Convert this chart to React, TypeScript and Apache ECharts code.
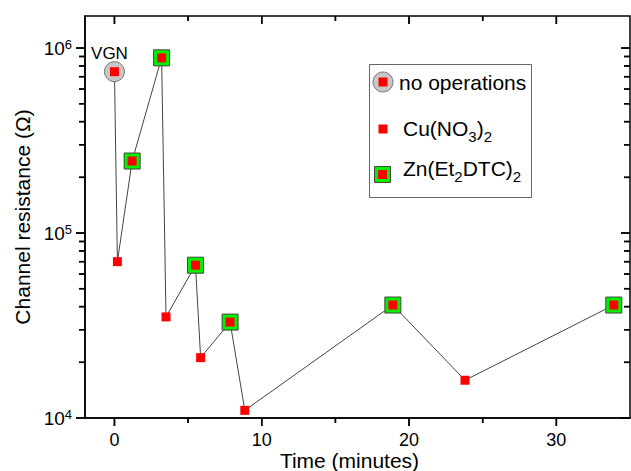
import React, { useEffect, useRef } from 'react';
import * as echarts from 'echarts';

// Data
const timeMin = [0, 0.2, 1.2, 3.2, 3.5, 5.5, 5.85, 7.85, 8.85, 18.9, 23.8, 33.9];
const resistance = [7.45e5, 7.0e4, 2.45e5, 8.85e5, 3.52e4, 6.7e4, 2.12e4, 3.3e4, 1.1e4, 4.08e4, 1.6e4, 4.08e4];
const treatment = ['none', 'cu', 'zn', 'zn', 'cu', 'zn', 'cu', 'zn', 'cu', 'zn', 'cu', 'zn'];

const xMajorTicks = [0, 10, 20, 30];
const xMinorTicks = [5, 15, 25];
const yMajorTicks = [1e4, 1e5, 1e6];
const yMinorTicks = [2e4, 3e4, 4e4, 5e4, 6e4, 7e4, 8e4, 9e4, 2e5, 3e5, 4e5, 5e5, 6e5, 7e5, 8e5, 9e5];

const X_MIN = -2;
const X_MAX = 35;
const Y_MIN = 1e4;
const Y_MAX = 1.49e6;

const FONT = '"Liberation Sans", Arial, Helvetica, sans-serif';

export default function App() {
  const ref = useRef<HTMLDivElement>(null);

  useEffect(() => {
    if (!ref.current) return;
    const chart = echarts.init(ref.current, null, { renderer: 'svg' });

    const points = timeMin.map((t, i) => [t, resistance[i]]);
    const pick = (k: string) => points.filter((_, i) => treatment[i] === k);
    const black = '#000';

    const tickSpecs = [
      { vals: xMajorTicks, axis: 'x', side: 'bottom', len: 8 },
      { vals: xMinorTicks, axis: 'x', side: 'bottom', len: 5 },
      { vals: xMajorTicks, axis: 'x', side: 'top', len: 8 },
      { vals: xMinorTicks, axis: 'x', side: 'top', len: 5 },
      { vals: yMajorTicks, axis: 'y', side: 'left', len: 9 },
      { vals: yMinorTicks, axis: 'y', side: 'left', len: 6 },
      { vals: yMajorTicks, axis: 'y', side: 'right', len: 9 },
      { vals: yMinorTicks, axis: 'y', side: 'right', len: 6 },
    ];
    const tickSeries = tickSpecs.map((spec) => ({
      type: 'custom',
      coordinateSystem: 'cartesian2d',
      z: 6,
      clip: false,
      data: spec.vals.map((v) =>
        spec.axis === 'x'
          ? [v, spec.side === 'bottom' ? Y_MIN : Y_MAX]
          : [spec.side === 'left' ? X_MIN : X_MAX, v]
      ),
      renderItem: (p: any, api: any) => {
        const c = api.coord([api.value(0), api.value(1)]);
        const L = spec.len;
        const shape =
          spec.axis === 'x'
            ? { x1: c[0], y1: c[1], x2: c[0], y2: c[1] + L }
            : { x1: c[0] - L, y1: c[1], x2: c[0], y2: c[1] };
        return { type: 'line', shape, style: { stroke: '#000', lineWidth: 1.5 } };
      },
    }));

    const legend = {
      type: 'group',
      left: 369,
      top: 64,
      z: 10,
      children: [
        { type: 'rect', shape: { x: 0.5, y: 0.5, width: 162, height: 133 }, style: { fill: '#fff', stroke: '#666', lineWidth: 1 } },
        { type: 'circle', shape: { cx: 14, cy: 18, r: 10 }, style: { fill: '#c8c8c8', stroke: '#777', lineWidth: 1 } },
        { type: 'rect', shape: { x: 9.5, y: 13.5, width: 9, height: 9 }, style: { fill: '#ff0000' } },
        {
          type: 'text', x: 30, y: 18,
          style: { text: 'no operations', fontSize: 21, fontFamily: FONT, fill: black, verticalAlign: 'middle' },
        },
        { type: 'rect', shape: { x: 9.5, y: 60.5, width: 9, height: 9 }, style: { fill: '#ff0000' } },
        {
          type: 'text', x: 34, y: 49,
          style: {
            text: '{b|Cu(NO}{s|3}{b|)}{s|2}',
            fill: black,
            rich: {
              b: { fontSize: 21, fontFamily: FONT, fill: black },
              s: { fontSize: 15, padding: [16, 0, 0, 0], fontFamily: FONT, fill: black },
            },
          },
        },
        { type: 'rect', shape: { x: 5.5, y: 102.5, width: 16, height: 16 }, style: { fill: '#00f000', stroke: '#444', lineWidth: 1 } },
        { type: 'rect', shape: { x: 9, y: 106, width: 9, height: 9 }, style: { fill: '#ff0000' } },
        {
          type: 'text', x: 34, y: 89,
          style: {
            text: '{b|Zn(Et}{s|2}{b|DTC)}{s|2}',
            fill: black,
            rich: {
              b: { fontSize: 21, fontFamily: FONT, fill: black },
              s: { fontSize: 15, padding: [16, 0, 0, 0], fontFamily: FONT, fill: black },
            },
          },
        },
      ],
    };

    const option: any = {
      animation: false,
      grid: {
        left: 85, top: 16, right: 1, bottom: 53,
        outerBoundsMode: 'none',
        show: true, borderColor: black, borderWidth: 1.5, backgroundColor: 'transparent',
      },
      xAxis: {
        type: 'value',
        min: X_MIN,
        max: X_MAX,
        splitLine: { show: false },
        axisLine: { show: true, onZero: false, lineStyle: { color: black, width: 1.5 } },
        axisTick: { show: false },
        axisLabel: { show: true, customValues: xMajorTicks, fontSize: 18, color: black, margin: 13, fontFamily: FONT },
      },
      yAxis: {
        type: 'log',
        logBase: 10,
        min: Y_MIN,
        max: Y_MAX,
        splitLine: { show: false },
        axisLine: { show: true, onZero: false, lineStyle: { color: black, width: 1.5 } },
        axisTick: { show: false },
        axisLabel: {
          show: true,
          customValues: yMajorTicks,
          margin: 13,
          color: black,
          fontFamily: FONT,
          formatter: (v: number) => `{b|10}{s|${Math.round(Math.log10(v))}}`,
          rich: {
            b: { fontSize: 19, lineHeight: 20, verticalAlign: 'bottom', color: black, fontFamily: FONT },
            s: { fontSize: 13, lineHeight: 13, verticalAlign: 'top', color: black, fontFamily: FONT },
          },
        },
        name: 'Channel resistance (Ω)',
        nameLocation: 'middle',
        nameGap: 52,
        nameTextStyle: { fontSize: 21, color: black, fontFamily: FONT },
      },
      series: [
        {
          type: 'line',
          data: points,
          symbol: 'none',
          lineStyle: { color: '#444', width: 1 },
          z: 1,
        },
        {
          type: 'scatter',
          data: pick('none'),
          symbol: 'circle',
          symbolSize: 20,
          itemStyle: { color: '#c8c8c8', borderColor: '#777', borderWidth: 1, opacity: 1 },
          label: {
            show: true,
            position: 'top',
            distance: 0,
            offset: [-5, 1],
            formatter: 'VGN',
            fontSize: 17,
            color: black,
            fontFamily: FONT,
          },
          z: 2,
        },
        {
          type: 'scatter',
          data: pick('zn'),
          symbol: 'rect',
          symbolSize: 16,
          itemStyle: { color: '#00f000', borderColor: '#444', borderWidth: 1, opacity: 1 },
          z: 3,
        },
        {
          type: 'scatter',
          data: points,
          symbol: 'rect',
          symbolSize: 9,
          itemStyle: { color: '#ff0000', opacity: 1 },
          z: 4,
        },
        ...tickSeries,
      ],
    };

    chart.setOption(option);

    const toPx = (x: number, y: number) => chart.convertToPixel({ gridIndex: 0 }, [x, y]) as number[];
    const bl = toPx(X_MIN, Y_MIN);
    const tr = toPx(X_MAX, Y_MAX);
    const tickEls: any[] = [];
    const line = (x1: number, y1: number, x2: number, y2: number) => ({
      type: 'line',
      shape: { x1, y1, x2, y2 },
      style: { stroke: '#000', lineWidth: 1.5 },
    });
    const addX = (v: number, len: number) => {
      const x = toPx(v, Y_MIN)[0];
      tickEls.push(line(x, bl[1], x, bl[1] + len));
      tickEls.push(line(x, tr[1], x, tr[1] + len));
    };
    const addY = (v: number, len: number) => {
      const y = toPx(X_MIN, v)[1];
      tickEls.push(line(bl[0] - len, y, bl[0], y));
      tickEls.push(line(tr[0] - len, y, tr[0], y));
    };
    xMajorTicks.forEach((v) => addX(v, 8));
    xMinorTicks.forEach((v) => addX(v, 5));
    yMajorTicks.forEach((v) => addY(v, 9));
    yMinorTicks.forEach((v) => addY(v, 6));

    const xTitle = {
      type: 'text',
      x: (bl[0] + tr[0]) / 2 - 8,
      y: bl[1] + 42,
      style: {
        text: 'Time (minutes)',
        fontSize: 21,
        fontFamily: FONT,
        fill: black,
        align: 'center',
        verticalAlign: 'middle',
      },
    };

    chart.setOption({ graphic: [legend, xTitle, ...tickEls] });

    return () => chart.dispose();
  }, []);

  return (
    <div
      ref={ref}
      style={{ position: 'fixed', left: 0, top: 0, width: 631, height: 471, background: '#fff' }}
    />
  );
}
